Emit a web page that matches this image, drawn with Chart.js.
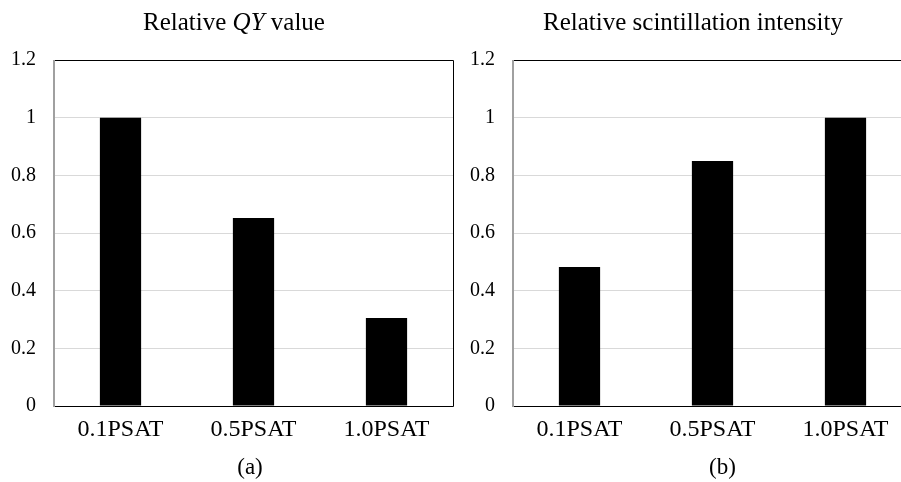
<!DOCTYPE html>
<html><head><meta charset="utf-8">
<script src="https://cdn.jsdelivr.net/npm/chart.js@4/dist/chart.umd.min.js"></script>
<style>
html,body{margin:0;padding:0;background:#fff;overflow:hidden}
#wrap{position:relative;width:901px;height:482px;overflow:hidden;background:#fff}
canvas{position:absolute;top:0}
</style></head><body>
<div id="wrap">
<canvas id="c1" width="456" height="482" style="left:0px"></canvas>
<canvas id="c2" width="460" height="482" style="left:455px"></canvas>
</div>
<script>
const categories = ['0.1PSAT', '0.5PSAT', '1.0PSAT'];
const qyValues = [1.0, 0.652, 0.305];
const scintValues = [0.482, 0.85, 1.0];
const yTickLabels = ['0', '0.2', '0.4', '0.6', '0.8', '1', '1.2'];
const titleA = [{text: 'Relative ', italic: false}, {text: 'QY', italic: true}, {text: ' value', italic: false}];
const titleB = [{text: 'Relative scintillation intensity', italic: false}];
const subA = '(a)';
const subB = '(b)';

const FONT = "'Liberation Serif', 'Times New Roman', serif";

const decorPlugin = {
  id: 'decor',
  afterDraw(chart, args, opts) {
    const ctx = chart.ctx;
    const a = chart.chartArea;
    ctx.save();
    // frame
    ctx.lineWidth = 1;
    ctx.strokeStyle = '#000';
    ctx.beginPath();
    ctx.moveTo(a.left, a.top + 0.5);
    ctx.lineTo(a.right + 0.5, a.top + 0.5);
    ctx.lineTo(a.right + 0.5, a.bottom + 0.5);
    ctx.lineTo(a.left, a.bottom + 0.5);
    ctx.stroke();
    ctx.strokeStyle = '#a0a0a0';
    ctx.lineWidth = 2;
    ctx.beginPath();
    ctx.moveTo(a.left, a.top);
    ctx.lineTo(a.left, a.bottom + 1);
    ctx.stroke();
    // title with mixed styles
    ctx.fillStyle = '#000';
    ctx.textBaseline = 'alphabetic';
    ctx.textAlign = 'left';
    const segs = opts.title || [];
    let total = 0;
    segs.forEach(s => {
      ctx.font = (s.italic ? 'italic ' : '') + '25px ' + FONT;
      total += ctx.measureText(s.text).width;
    });
    let x = (a.left + a.right) / 2 + opts.titleDx - total / 2;
    segs.forEach(s => {
      ctx.font = (s.italic ? 'italic ' : '') + '25px ' + FONT;
      ctx.fillText(s.text, x, 30);
      x += ctx.measureText(s.text).width;
    });
    // sub label
    ctx.font = '23px ' + FONT;
    ctx.textAlign = 'center';
    ctx.textBaseline = 'middle';
    ctx.fillText(opts.sub, (a.left + a.right) / 2 + opts.subDx, 468);
    ctx.restore();
  }
};

function makeChart(id, values, yWidth, title, sub, subDx) {
  return new Chart(document.getElementById(id), {
    type: 'bar',
    data: {
      labels: categories,
      datasets: [{
        data: values,
        backgroundColor: '#000',
        borderWidth: 0,
        categoryPercentage: 1,
        barPercentage: 0.31
      }]
    },
    options: {
      responsive: false,
      animation: false,
      events: [],
      layout: {padding: {top: 60, right: 3, bottom: 0, left: 0}},
      plugins: {
        legend: {display: false},
        tooltip: {enabled: false},
        title: {display: false},
        decor: {title: title, titleDx: -19.5, sub: sub, subDx: subDx}
      },
      scales: {
        x: {
          grid: {display: false, drawTicks: false},
          border: {display: false},
          ticks: {color: '#000', font: {family: FONT, size: 24}, padding: 9, maxRotation: 0},
          afterFit(s) { s.height = 76; }
        },
        y: {
          min: 0, max: 1.2,
          grid: {
            drawTicks: false,
            color: c => (c.tick && (c.tick.value === 0 || c.tick.value >= 1.2)) ? 'rgba(0,0,0,0)' : '#d9d9d9',
            lineWidth: 1
          },
          border: {display: false},
          ticks: {
            stepSize: 0.2,
            color: '#000',
            font: {family: FONT, size: 20},
            padding: 18,
            callback: (v, i) => yTickLabels[i]
          },
          afterFit(s) { s.width = yWidth; }
        }
      }
    },
    plugins: [decorPlugin]
  });
}

makeChart('c1', qyValues, 54, titleA, subA, -3.5);
makeChart('c2', scintValues, 58, titleB, subB, 10);
</script>
</body></html>
